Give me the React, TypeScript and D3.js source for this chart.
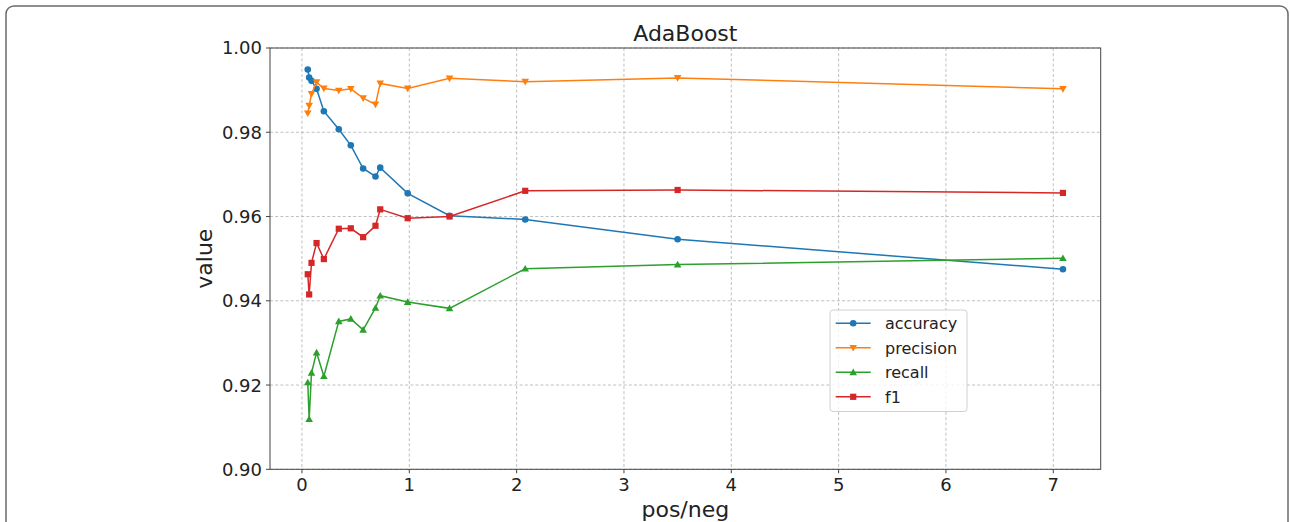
import React from "react";
import * as d3 from "d3";

// pos/neg ratios along the x axis
const posNeg = [0.054, 0.067, 0.089, 0.136, 0.204, 0.343, 0.455, 0.57, 0.685, 0.729, 0.985, 1.375, 2.08, 3.5, 7.09];

const accuracy = [0.9949, 0.993, 0.9922, 0.9903, 0.985, 0.9807, 0.9769, 0.9714, 0.9695, 0.9716, 0.9655, 0.9602, 0.9593, 0.9546, 0.9475];
const precision = [0.9845, 0.9863, 0.9891, 0.9919, 0.9904, 0.9899, 0.9903, 0.9881, 0.9866, 0.9916, 0.9904, 0.9928, 0.992, 0.9929, 0.9903];
const recall = [0.9206, 0.9119, 0.9229, 0.9277, 0.9221, 0.9351, 0.9357, 0.9331, 0.9383, 0.9412, 0.9397, 0.9382, 0.9476, 0.9486, 0.9501];
const f1 = [0.9463, 0.9415, 0.949, 0.9537, 0.9499, 0.9571, 0.9572, 0.9551, 0.9578, 0.9617, 0.9596, 0.96, 0.9661, 0.9663, 0.9656];

const seriesNames = ["accuracy", "precision", "recall", "f1"];
const seriesColors = ["#1f77b4", "#ff7f0e", "#2ca02c", "#d62728"];
const seriesMarkers = ["circle", "triDown", "triUp", "square"];

const xTicks = [0, 1, 2, 3, 4, 5, 6, 7];
const yTicks = [0.9, 0.92, 0.94, 0.96, 0.98, 1.0];

const W = 1290;
const H = 522;
const plot = { left: 270, right: 1100.7, top: 48, bottom: 469.3 };
const FONT = "'DejaVu Sans', sans-serif";

function Marker({ kind, x, y, color }: { kind: string; x: number; y: number; color: string }) {
  if (kind === "circle") return <circle cx={x} cy={y} r={3.3} fill={color} />;
  if (kind === "square") return <rect x={x - 3.1} y={y - 3.1} width={6.2} height={6.2} fill={color} />;
  const s = 3.8;
  if (kind === "triDown")
    return <path d={`M${x - s},${y - s * 0.75}L${x + s},${y - s * 0.75}L${x},${y + s}Z`} fill={color} />;
  return <path d={`M${x - s},${y + s * 0.75}L${x + s},${y + s * 0.75}L${x},${y - s}Z`} fill={color} />;
}

export default function App() {
  const xMin = 0.054, xMax = 7.09;
  const pad = (xMax - xMin) * 0.05;
  const x = d3.scaleLinear().domain([xMin - pad, xMax + pad]).range([plot.left, plot.right]);
  const y = d3.scaleLinear().domain([0.9, 1.0]).range([plot.bottom, plot.top]);
  const allSeries = [accuracy, precision, recall, f1];
  const line = d3
    .line<number>()
    .x((_, i) => x(posNeg[i]))
    .y((d) => y(d));

  const legend = { x: 830, y: 310, w: 137, h: 101.5 };
  const cx = (plot.left + plot.right) / 2;

  return (
    <div style={{ position: "absolute", left: 0, top: 0 }}>
      <svg width={W} height={H} style={{ display: "block", fontFamily: FONT }}>
        <rect x={0} y={0} width={W} height={H} fill="#fff" />
        <rect x={6} y={6} width={1282} height={560} rx={8} ry={8} fill="none" stroke="#6a6a6a" strokeWidth={1.5} />

        {/* grid */}
        <g stroke="#b0b0b0" strokeWidth={0.8} strokeDasharray="3,2.2">
          {xTicks.map((t) => (
            <line key={"gx" + t} x1={x(t)} x2={x(t)} y1={plot.top} y2={plot.bottom} />
          ))}
          {yTicks.map((t) => (
            <line key={"gy" + t} x1={plot.left} x2={plot.right} y1={y(t)} y2={y(t)} />
          ))}
        </g>

        {/* series */}
        {allSeries.map((vals, si) => (
          <g key={seriesNames[si]}>
            <path d={line(vals) || ""} fill="none" stroke={seriesColors[si]} strokeWidth={1.5} />
            {vals.map((v, i) => (
              <Marker key={i} kind={seriesMarkers[si]} x={x(posNeg[i])} y={y(v)} color={seriesColors[si]} />
            ))}
          </g>
        ))}

        {/* frame */}
        <rect
          x={plot.left}
          y={plot.top}
          width={plot.right - plot.left}
          height={plot.bottom - plot.top}
          fill="none"
          stroke="#444"
          strokeWidth={1}
        />

        {/* x ticks */}
        {xTicks.map((t) => (
          <g key={"xt" + t}>
            <line x1={x(t)} x2={x(t)} y1={plot.bottom} y2={plot.bottom + 4} stroke="#444" strokeWidth={1} />
            <text x={x(t)} y={plot.bottom + 22} textAnchor="middle" fontSize={18} fill="#222">
              {t}
            </text>
          </g>
        ))}

        {/* y ticks */}
        {yTicks.map((t) => (
          <g key={"yt" + t}>
            <line x1={plot.left - 4} x2={plot.left} y1={y(t)} y2={y(t)} stroke="#444" strokeWidth={1} />
            <text x={plot.left - 8} y={y(t)} dy="0.36em" textAnchor="end" fontSize={18} fill="#222">
              {d3.format(".2f")(t)}
            </text>
          </g>
        ))}

        <text x={cx} y={41} textAnchor="middle" fontSize={22} fill="#222">
          AdaBoost
        </text>
        <text x={cx} y={517} textAnchor="middle" fontSize={22} fill="#222">
          pos/neg
        </text>
        <text
          transform={`translate(212,${(plot.top + plot.bottom) / 2}) rotate(-90)`}
          textAnchor="middle"
          fontSize={22}
          fill="#222"
        >
          value
        </text>

        {/* legend */}
        <rect
          x={legend.x}
          y={legend.y}
          width={legend.w}
          height={legend.h}
          rx={3}
          fill="#fff"
          fillOpacity={0.8}
          stroke="#d0d0d0"
          strokeWidth={1}
        />
        {seriesNames.map((name, i) => {
          const ry = 323.3 + i * 24.5;
          return (
            <g key={"lg" + name}>
              <line x1={835.7} x2={870.7} y1={ry} y2={ry} stroke={seriesColors[i]} strokeWidth={1.5} />
              <Marker kind={seriesMarkers[i]} x={853.2} y={ry} color={seriesColors[i]} />
              <text x={885} y={ry} dy="0.36em" fontSize={16} fill="#222">
                {name}
              </text>
            </g>
          );
        })}
      </svg>
    </div>
  );
}
